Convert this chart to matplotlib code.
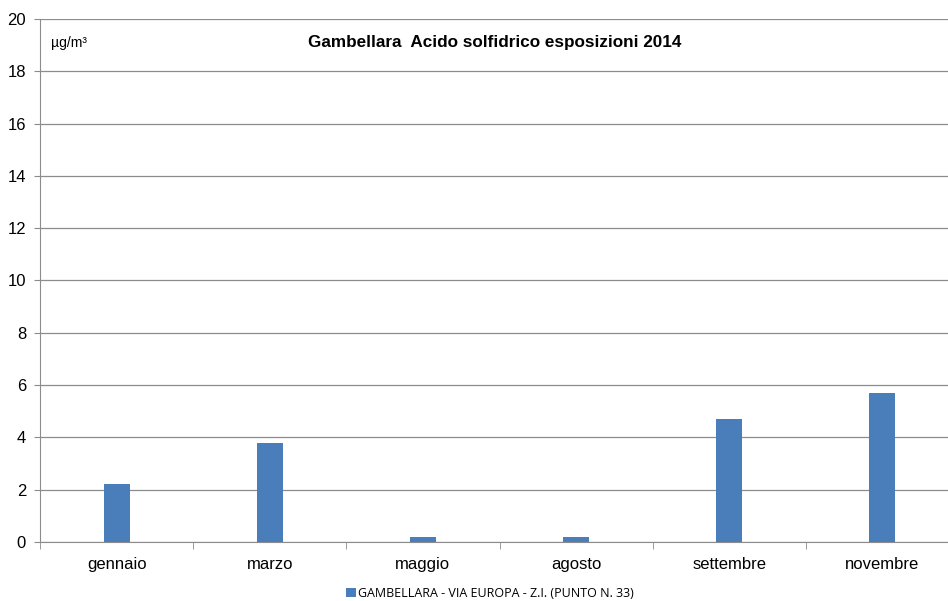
import matplotlib
matplotlib.use('Agg')
import matplotlib.pyplot as plt
import numpy as np

# monthly exposure values (µg/m3)
months = ['gennaio', 'marzo', 'maggio', 'agosto', 'settembre', 'novembre']
values = [2.2, 3.8, 0.2, 0.2, 4.7, 5.7]
series_name = 'GAMBELLARA - VIA EUROPA - Z.I. (PUNTO N. 33)'
yticks = [0, 2, 4, 6, 8, 10, 12, 14, 16, 18, 20]

plt.rcParams['font.family'] = ['Liberation Sans', 'DejaVu Sans']

fig = plt.figure(figsize=(9.48, 6.01), dpi=100)
# plot area runs a little past the right edge of the figure
ax = fig.add_axes([0.0422, 0.0982, 0.9694, 0.8702])

x = np.arange(len(months))
bars = ax.bar(x, values, width=0.17, color='#4a7ebb', zorder=3,
              label=series_name)

ax.set_xlim(-0.5, len(months) - 0.5)
ax.set_ylim(0, 20)
ax.set_yticks(yticks)
ax.set_yticklabels([str(v) for v in yticks], fontsize=12)
ax.yaxis.grid(True, color='#8c8c8c', linewidth=0.9, zorder=0)

# category labels centred, tick marks on the category boundaries
ax.set_xticks(x)
ax.set_xticklabels(months, fontsize=12)
ax.tick_params(axis='x', length=0, pad=11)
ax.set_xticks(np.arange(len(months) + 1) - 0.5, minor=True)
ax.tick_params(axis='x', which='minor', length=5, color='#8c8c8c')
ax.tick_params(axis='y', length=4, color='#8c8c8c', pad=6)

for side in ['top', 'right']:
    ax.spines[side].set_visible(False)
ax.spines['left'].set_color('#8c8c8c')
ax.spines['bottom'].set_color('#8c8c8c')

ax.text(0.012, 0.955, 'µg/m³', transform=ax.transAxes, fontsize=10,
        va='center', ha='left')
ax.text(0.495, 0.955, 'Gambellara  Acido solfidrico esposizioni 2014',
        transform=ax.transAxes, fontsize=12.3, fontweight='bold',
        va='center', ha='center')

fig.legend(handles=[bars], labels=[series_name], loc='center',
           bbox_to_anchor=(0.517, 0.013), frameon=False,
           handlelength=0.75, handleheight=0.75, handletextpad=0.2,
           prop={'family': ['Open Sans', 'DejaVu Sans'], 'size': 9})

fig.savefig('out.png', dpi=100)
